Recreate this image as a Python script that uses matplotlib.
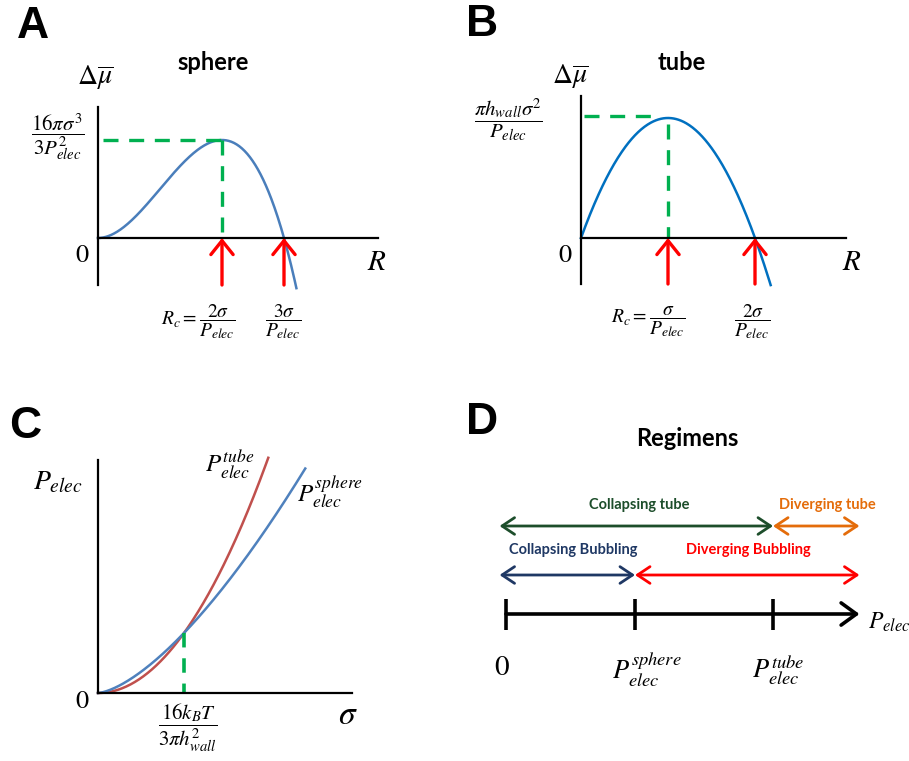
import numpy as np
import matplotlib
matplotlib.use('Agg')
import matplotlib.pyplot as plt

plt.rcParams['mathtext.fontset'] = 'stix'
plt.rcParams['font.family'] = ['Lato', 'DejaVu Sans']

W, H = 909, 761

# --- A: sphere, dmu(R) = 3*sigma*R^2 - P*R^3 (normalised, sigma = P = 1)
sigma, p_elec = 1.0, 1.0
sphere_R = np.linspace(0, 3.2, 300)
sphere_dmu = 3 * sigma * sphere_R**2 - p_elec * sphere_R**3
sphere_Rc, sphere_R0 = 2 * sigma / p_elec, 3 * sigma / p_elec
sphere_peak = 4 * sigma**3 / p_elec**2

# --- B: tube, dmu(R) = 2*sigma*R - P*R^2
tube_R = np.linspace(0, 2.18, 300)
tube_dmu = 2 * sigma * tube_R - p_elec * tube_R**2
tube_Rc, tube_R0 = sigma / p_elec, 2 * sigma / p_elec
tube_peak = sigma**2 / p_elec

# --- C: critical pressures vs sigma (crossing at sigma* = 1)
sig_tube = np.linspace(0, 1.98, 200)
sig_sphere = np.linspace(0, 2.41, 200)
p_tube = sig_tube**2
p_sphere = sig_sphere**1.5
sigma_star = 1.0

# --- D: regimes along P_elec
d_ticks = [0.0, 1.0, 2.07]          # 0, P_sphere, P_tube
d_start, d_end = -0.05, 2.74
regimes_top = [('Collapsing tube', d_start, d_ticks[2], '#1d4e2b'),
               ('Diverging tube', d_ticks[2], d_end, '#e46c0a')]
regimes_bot = [('Collapsing Bubbling', d_start, d_ticks[1], '#1f3864'),
               ('Diverging Bubbling', d_ticks[1], d_end, '#ff0000')]

fig = plt.figure(figsize=(W / 100, H / 100), dpi=100)


def px_axes(x0, y0, x1, y1):
    ax = fig.add_axes([x0 / W, 1 - y1 / H, (x1 - x0) / W, (y1 - y0) / H])
    ax.patch.set_alpha(0)
    return ax


def label(x, y, s, **kw):
    kw.setdefault('ha', 'center')
    kw.setdefault('va', 'center')
    fig.text(x / W, 1 - y / H, s, **kw)


def axes_style(ax):
    for side in ['top', 'right']:
        ax.spines[side].set_visible(False)
    ax.spines['bottom'].set_position(('data', 0))
    for side in ['left', 'bottom']:
        ax.spines[side].set_linewidth(1.6)
    ax.set_xticks([])
    ax.set_yticks([])


green = '#00b050'
dash = (0, (4.5, 3.2))
red_arrow = dict(arrowstyle='->,head_length=0.5,head_width=0.4', color='red', lw=2.4,
                 mutation_scale=20, shrinkA=0, shrinkB=0)

# A
axA = px_axes(98, 107, 378, 285)
axA.set_xlim(0, 280 / 62)
axA.set_ylim(-47 / 24.5, 131 / 24.5)
axes_style(axA)
axA.plot(sphere_R, sphere_dmu, color='#4a7ebb', lw=1.8, clip_on=False)
axA.plot([0.08, sphere_Rc], [sphere_peak, sphere_peak], color=green, lw=2.4, ls=dash)
axA.plot([sphere_Rc, sphere_Rc], [sphere_peak, 0], color=green, lw=2.4, ls=dash)
for r in [sphere_Rc, sphere_R0]:
    axA.annotate('', xy=(r, 0), xytext=(r, -47 / 24.5), arrowprops=red_arrow)

# B
axB = px_axes(581, 96, 846, 284)
axB.set_xlim(0, 265 / 87)
axB.set_ylim(-46 / 120, 142 / 120)
axes_style(axB)
axB.plot(tube_R, tube_dmu, color='#0070c0', lw=1.8, clip_on=False)
axB.plot([0.03, 0.91], [tube_peak * 1.02, tube_peak * 1.02], color=green, lw=2.4, ls=dash)
axB.plot([tube_Rc, tube_Rc], [0.95 * tube_peak, 0], color=green, lw=2.4, ls=dash)
for r in [tube_Rc, tube_R0]:
    axB.annotate('', xy=(r, 0), xytext=(r, -46 / 120), arrowprops=red_arrow)

# C
axC = px_axes(98, 460, 352, 693)
axC.set_xlim(0, 254 / 86)
axC.set_ylim(0, 233 / 60)
axes_style(axC)
axC.plot(sig_tube, p_tube, color='#c0504d', lw=1.8, clip_on=False)
axC.plot(sig_sphere, p_sphere, color='#4f81bd', lw=1.8, clip_on=False)
axC.plot([sigma_star, sigma_star], [sigma_star**1.5, 0], color=green, lw=2.6, ls=(0, (4, 3)))

# D
axD = px_axes(490, 500, 880, 640)
axD.set_xlim(-16 / 129, 374 / 129)
axD.set_ylim(0, 1)
axD.axis('off')
y_axis, y_bot, y_top = 26 / 140, 65 / 140, 114 / 140
axD.annotate('', xy=(d_end, y_axis), xytext=(d_ticks[0], y_axis),
             arrowprops=dict(arrowstyle='->,head_length=0.55,head_width=0.4', color='black',
                             lw=2.6, mutation_scale=20, shrinkA=0, shrinkB=0))
axD.vlines(d_ticks, y_axis - 16 / 140, y_axis + 15 / 140, color='black', lw=2.6)
for row, yy in [(regimes_top, y_top), (regimes_bot, y_bot)]:
    for name, a, b, c in row:
        axD.annotate('', xy=(b, yy), xytext=(a, yy),
                     arrowprops=dict(arrowstyle='<->,head_length=0.45,head_width=0.3', color=c,
                                     lw=2.0, mutation_scale=20, shrinkA=0, shrinkB=0))

# panel letters and titles
for x, y, s in [(33, 26, 'A'), (482, 25, 'B'), (25, 427, 'C'), (482, 423, 'D')]:
    label(x, y, s, family='Liberation Sans', weight='bold', fontsize=32)
label(213, 63, 'sphere', weight='bold', fontsize=17)
label(682, 63, 'tube', weight='bold', fontsize=17)
label(687, 438, 'Regimens', weight='bold', fontsize=17)

# D regime names
label(639, 505, 'Collapsing tube', weight='bold', fontsize=10.5, color='#1d4e2b')
label(827, 505, 'Diverging tube', weight='bold', fontsize=10.5, color='#e46c0a')
label(573, 550, 'Collapsing Bubbling', weight='bold', fontsize=10.5, color='#1f3864')
label(748, 550, 'Diverging Bubbling', weight='bold', fontsize=10.5, color='#ff0000')

# math labels
label(95, 78, r'$\Delta\overline{\mu}$', fontsize=20)
label(570, 77, r'$\Delta\overline{\mu}$', fontsize=20)
label(58, 137, r'$\dfrac{16\pi\sigma^3}{3P_{elec}^2}$', fontsize=15)
label(508, 120, r'$\dfrac{\pi h_{wall}\sigma^2}{P_{elec}}$', fontsize=15)
label(82, 255, r'$0$', fontsize=19)
label(565, 255, r'$0$', fontsize=19)
label(377, 262, r'$R$', fontsize=21)
label(852, 262, r'$R$', fontsize=21)
label(198, 322, r'$R_c=\dfrac{2\sigma}{P_{elec}}$', fontsize=14)
label(283, 322, r'$\dfrac{3\sigma}{P_{elec}}$', fontsize=14)
label(648, 322, r'$R_c=\dfrac{\sigma}{P_{elec}}$', fontsize=14)
label(752, 322, r'$\dfrac{2\sigma}{P_{elec}}$', fontsize=14)

label(58, 482, r'$P_{elec}$', fontsize=20)
label(82, 700, r'$0$', fontsize=19)
label(348, 715, r'$\sigma$', fontsize=24)
label(188, 728, r'$\dfrac{16k_BT}{3\pi h_{wall}^2}$', fontsize=15)
label(230, 465, r'$P_{elec}^{tube}$', fontsize=18)
label(330, 493, r'$P_{elec}^{sphere}$', fontsize=18)

label(502, 667, r'$0$', fontsize=21)
label(647, 670, r'$P_{elec}^{sphere}$', fontsize=19)
label(778, 670, r'$P_{elec}^{tube}$', fontsize=19)
label(868, 622, r'$P_{elec}$', fontsize=17, ha='left')

fig.savefig('out.png', dpi=100)
